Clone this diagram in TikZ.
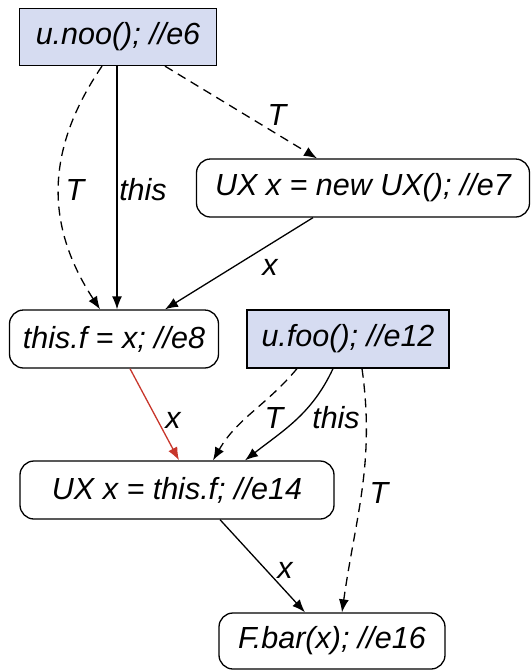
\documentclass[tikz,border=0pt]{standalone}
\usepackage{fontspec}
\setmainfont{Liberation Sans}
\usetikzlibrary{arrows.meta}
\definecolor{boxblue}{HTML}{D6DCF1}
\definecolor{edgered}{HTML}{C8362B}
\begin{document}
\begin{tikzpicture}[x=1pt,y=-1pt,
  font=\fontsize{30.5}{36}\selectfont\itshape,
  stmt/.style={draw, line width=1.3pt, rounded corners=14pt, inner sep=0pt, anchor=center},
  call/.style={draw, line width=1.3pt, fill=boxblue, inner sep=0pt, anchor=center},
  lbl/.style={inner sep=0pt, anchor=base},
  edge/.style={line width=1.3pt, -{Latex[length=13pt,width=10pt]}},
  dedge/.style={edge, dash pattern=on 9pt off 6pt},
  redge/.style={edge, draw=edgered}]
\useasboundingbox (0,0) rectangle (532,670);
\node[call, minimum width=197pt, minimum height=57pt] (e6) at (118,37) {u.noo(); //e6};
\node[stmt, minimum width=333pt, minimum height=58pt] (e7) at (363,188) {UX x = new UX(); //e7};
\node[stmt, minimum width=209pt, minimum height=58pt] (e8) at (114,339) {this.f = x; //e8};
\node[call, minimum width=202pt, minimum height=58pt] (e12) at (348,339) {u.foo(); //e12};
\node[stmt, minimum width=314pt, minimum height=58pt] (e14) at (177,490) {UX x = this.f; //e14};
\node[stmt, minimum width=226pt, minimum height=56pt] (e16) at (332,641) {F.bar(x); //e16};
% edges
\draw[dedge] ([xshift=-16pt]e6.south) .. controls (45,150) and (45,225) .. ([xshift=-14pt]e8.north);
\draw[edge] ([xshift=-1pt]e6.south) -- ([xshift=3pt]e8.north);
\draw[dedge] ([xshift=47pt]e6.south) -- ([xshift=-46pt]e7.north);
\draw[edge] ([xshift=-50pt]e7.south) -- ([xshift=51pt]e8.north);
\draw[redge] ([xshift=16pt]e8.south) -- ([xshift=2pt]e14.north);
\draw[dedge] ([xshift=-51pt]e12.south) to[out=-130,in=60] ([xshift=36pt]e14.north);
\draw[edge] ([xshift=-15pt]e12.south) to[out=-115,in=38] ([xshift=68pt]e14.north);
\draw[dedge] ([xshift=14pt]e12.south) to[out=-82,in=82] ([xshift=10pt]e16.north);
\draw[edge] ([xshift=43pt]e14.south) -- ([xshift=-27pt]e16.north);
% labels
\node[lbl] (lT1) at (75,200) {T};
\node[lbl] (lthis1) at (143,200) {this};
\node[lbl] (lT2) at (277,125) {T};
\node[lbl] (lx1) at (270,275) {x};
\node[lbl] (lx2) at (173,428) {x};
\node[lbl] (lT3) at (274,428) {T};
\node[lbl] (lthis2) at (336,428) {this};
\node[lbl] (lT4) at (379,503) {T};
\node[lbl] (lx3) at (285,578) {x};
\end{tikzpicture}
\end{document}
